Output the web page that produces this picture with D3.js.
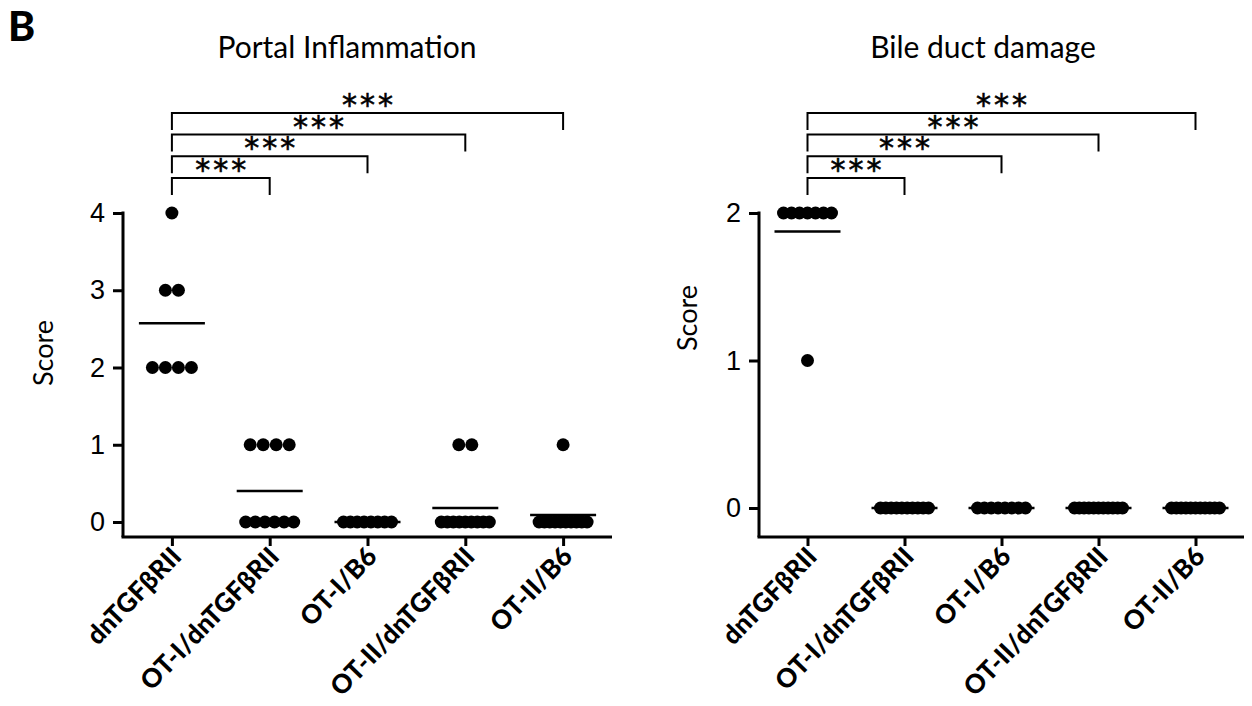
<!DOCTYPE html>
<html lang="en">
<head>
  <meta charset="UTF-8" />
  <title>Portal Inflammation / Bile duct damage</title>
  <script src="https://d3js.org/d3.v7.min.js"></script>
  <style>
    body { margin: 0; background: #fff; }
    svg { display: block; }
    .title { font-family: Lato, sans-serif; font-size: 30px; fill: #000; }
    .ylabel { font-family: Lato, sans-serif; font-size: 27px; fill: #000; }
    .ytick text { font-family: "Liberation Sans", Arial, sans-serif; font-size: 27px; fill: #000; }
    .xlab { font-family: Lato, sans-serif; font-size: 26px; font-weight: 900; fill: #000; }
    .stars { font-family: "DejaVu Sans", sans-serif; font-size: 30px; fill: #000; stroke: #000; stroke-width: 0.6px; letter-spacing: 3px; }
  </style>
</head>
<body>
<svg id="chart" width="1252" height="706"></svg>
<script>
  // groups on the x axis
  const groups = ["dnTGFβRII", "OT-I/dnTGFβRII", "OT-I/B6", "OT-II/dnTGFβRII", "OT-II/B6"];

  // individual scores per group
  const portalScores = [
    [4, 3, 3, 2, 2, 2, 2],
    [1, 1, 1, 1, 0, 0, 0, 0, 0, 0],
    [0, 0, 0, 0, 0, 0, 0, 0],
    [1, 1, 0, 0, 0, 0, 0, 0, 0, 0, 0],
    [1, 0, 0, 0, 0, 0, 0, 0, 0, 0, 0]
  ];
  const bileScores = [
    [2, 2, 2, 2, 2, 2, 2, 1],
    [0, 0, 0, 0, 0, 0, 0, 0, 0, 0],
    [0, 0, 0, 0, 0, 0, 0, 0],
    [0, 0, 0, 0, 0, 0, 0, 0, 0, 0, 0],
    [0, 0, 0, 0, 0, 0, 0, 0, 0, 0, 0]
  ];

  const portalTicks = [0, 1, 2, 3, 4];
  const bileTicks = [0, 1, 2];

  // significance brackets: group index pairs + label
  const comparisons = [[0, 1], [0, 2], [0, 3], [0, 4]];
  const sigLabels = ["***", "***", "***", "***"];

  const svg = d3.select("#chart");

  svg.append("text")
    .attr("x", 8).attr("y", 41)
    .style("font-family", "Lato, sans-serif")
    .style("font-size", "41px")
    .style("font-weight", 900)
    .text("B");

  const panels = [
    { title: "Portal Inflammation", scores: portalScores, ticks: portalTicks,
      axisX: 123, xEnd: 612, yTop: 213, yZero: 522, axisY: 537, titleX: 347, labelX: 44, labelY: 353 },
    { title: "Bile duct damage", scores: bileScores, ticks: bileTicks,
      axisX: 759, xEnd: 1244, yTop: 213, yZero: 508, axisY: 537, titleX: 983, labelX: 688, labelY: 318 }
  ];

  const dotR = 6.5;

  panels.forEach(p => {
    const g = svg.append("g");

    const x = d3.scalePoint().domain(groups).range([p.axisX, p.xEnd]).padding(0.5);
    const y = d3.scaleLinear().domain([0, d3.max(p.ticks)]).range([p.yZero, p.yTop]);

    // title
    g.append("text").attr("class", "title")
      .attr("x", p.titleX).attr("y", 58)
      .attr("text-anchor", "middle")
      .text(p.title);

    // y label
    g.append("text").attr("class", "ylabel")
      .attr("transform", `translate(${p.labelX + 9},${p.labelY}) rotate(-90)`)
      .attr("text-anchor", "middle")
      .text("Score");

    // y axis
    const yAxis = g.append("g").attr("class", "ytick")
      .attr("transform", `translate(${p.axisX},0)`)
      .call(d3.axisLeft(y).tickValues(p.ticks).tickFormat(d3.format("d")).tickSize(10).tickSizeOuter(0).tickPadding(8));
    yAxis.select(".domain").remove();
    yAxis.selectAll(".tick line").attr("stroke", "#000").attr("stroke-width", 3);
    yAxis.append("line")
      .attr("x1", 0).attr("x2", 0)
      .attr("y1", y(d3.max(p.ticks)) - 1.5).attr("y2", p.axisY)
      .attr("stroke", "#000").attr("stroke-width", 3);

    // x axis
    const xAxis = g.append("g")
      .attr("transform", `translate(0,${p.axisY})`)
      .call(d3.axisBottom(x).tickSize(9).tickSizeOuter(0).tickFormat(""));
    xAxis.select(".domain").remove();
    xAxis.selectAll(".tick line").attr("stroke", "#000").attr("stroke-width", 3);
    xAxis.append("line")
      .attr("x1", p.axisX - 1.5).attr("x2", p.xEnd)
      .attr("y1", 0).attr("y2", 0)
      .attr("stroke", "#000").attr("stroke-width", 3);

    g.selectAll(".xlab")
      .data(groups)
      .enter()
      .append("text")
        .attr("class", "xlab")
        .attr("text-anchor", "end")
        .attr("transform", d => `translate(${x(d) + 11},${p.axisY + 21}) rotate(-46)`)
        .text(d => d);

    // dots, spread sideways within each score level
    const pts = [];
    p.scores.forEach((vals, gi) => {
      const byVal = d3.group(vals, v => v);
      byVal.forEach((arr, v) => {
        const k = arr.length;
        const spread = k > 1 ? Math.min(13 * (k - 1), 48) : 0;
        arr.forEach((_, i) => {
          const off = k > 1 ? -spread / 2 + i * spread / (k - 1) : 0;
          pts.push({ g: groups[gi], v: v, off: off });
        });
      });
    });

    g.selectAll(".dot")
      .data(pts)
      .enter()
      .append("circle")
        .attr("class", "dot")
        .attr("cx", d => x(d.g) + d.off)
        .attr("cy", d => y(d.v))
        .attr("r", dotR)
        .attr("fill", "#000");

    // mean lines
    g.selectAll(".mean")
      .data(p.scores)
      .enter()
      .append("line")
        .attr("class", "mean")
        .attr("x1", (d, i) => x(groups[i]) - 33)
        .attr("x2", (d, i) => x(groups[i]) + 33)
        .attr("y1", d => y(d3.mean(d)))
        .attr("y2", d => y(d3.mean(d)))
        .attr("stroke", "#000")
        .attr("stroke-width", 2.5);

    // significance brackets
    const bBase = 178, bStep = 21.7, bDrop = 17;
    comparisons.forEach((c, i) => {
      const x1 = x(groups[c[0]]), x2 = x(groups[c[1]]);
      const yy = bBase - i * bStep;
      g.append("path")
        .attr("d", `M${x1},${yy + bDrop}V${yy}H${x2}V${yy + bDrop}`)
        .attr("fill", "none")
        .attr("stroke", "#000")
        .attr("stroke-width", 2);
      g.append("text").attr("class", "stars")
        .attr("x", (x1 + x2) / 2 + 1.5)
        .attr("y", yy + 2)
        .attr("text-anchor", "middle")
        .text(sigLabels[i]);
    });
  });
</script>
</body>
</html>
